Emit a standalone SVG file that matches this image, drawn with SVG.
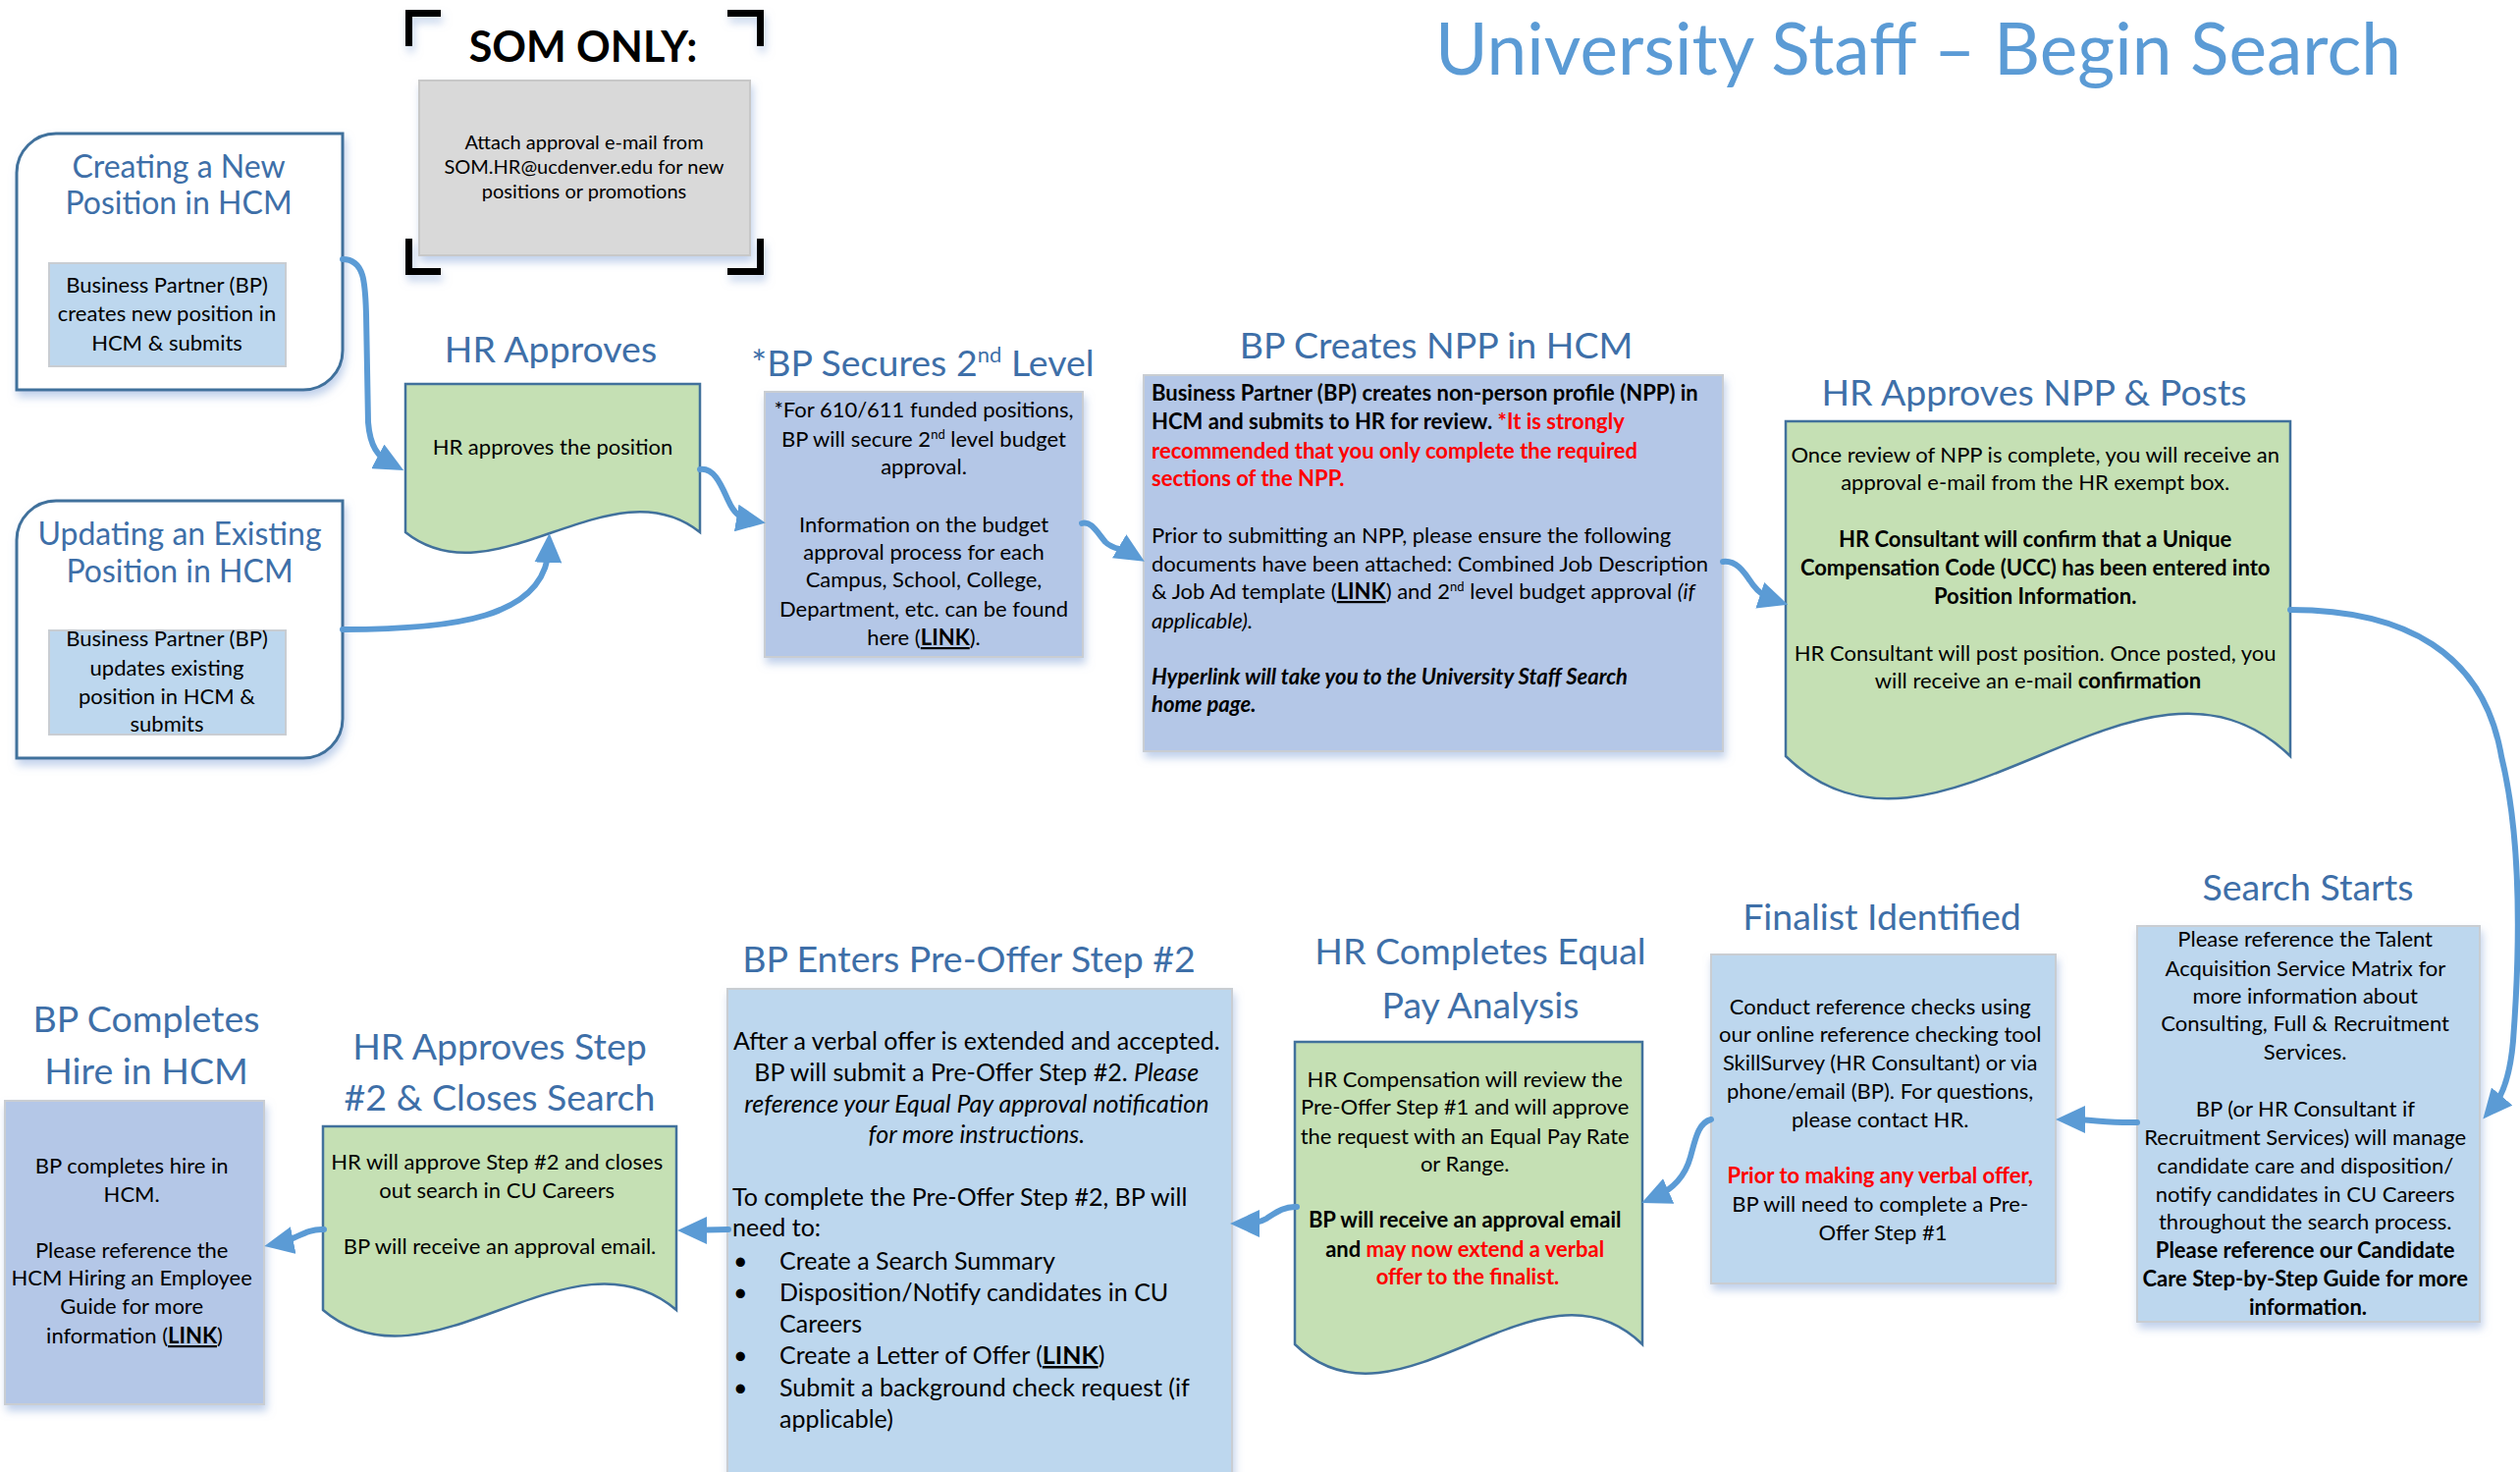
<svg xmlns="http://www.w3.org/2000/svg" width="2567" height="1499" viewBox="0 0 2567 1499">
<defs>
<style>
text{font-family:Lato,"Liberation Sans",sans-serif}
.h{fill:#3E6FA8;text-anchor:middle;font-size:37.5px}
.b{fill:#000;font-size:22px}
.c{text-anchor:middle}
.bd{font-weight:bold}
.it{font-style:italic}
.red{fill:#FF0000}
.u{text-decoration:underline;font-weight:bold}
.blue{fill:#BDD7EE;stroke:#C9CDD2;stroke-width:2}
.blue2{fill:#B4C7E7;stroke:#C9CDD2;stroke-width:2}
.green{fill:#C5E0B4;stroke:#41719C;stroke-width:2.5}
.round{fill:#FFFFFF;stroke:#41719C;stroke-width:3}
.conn{fill:none;stroke:#5B9BD5;stroke-width:6;stroke-linecap:round;marker-end:url(#arrow)}
.brk{fill:none;stroke:#000;stroke-width:7}
</style>
<marker id="arrow" markerUnits="userSpaceOnUse" markerWidth="30" markerHeight="28" viewBox="0 0 30 28" refX="15" refY="14" orient="auto">
<polygon points="0,0 30,14 0,28" fill="#5B9BD5"/>
</marker>
<filter id="sh" x="-10%" y="-10%" width="120%" height="130%">
<feDropShadow dx="2" dy="6" stdDeviation="4" flood-color="#8EAADB" flood-opacity="0.55"/>
</filter>
</defs>
<rect width="2567" height="1499" fill="#FFFFFF"/>

<g id="node-title">
<text x="1954" y="76" text-anchor="middle" font-size="73" fill="#5B9BD5">University Staff – Begin Search</text>
</g>

<g id="node-som">
<g filter="url(#sh)">
<path class="brk" d="M416.5,47 V13.5 H449"/>
<path class="brk" d="M741,13.5 H774.5 V47"/>
<path class="brk" d="M416.5,243 V276.5 H449"/>
<path class="brk" d="M741,276.5 H774.5 V243"/>
<rect x="427" y="82" width="337" height="178" fill="#D9D9D9" stroke="#C8C8C8" stroke-width="2"/>
</g>
<text x="594" y="63" text-anchor="middle" font-size="43" font-weight="bold" fill="#000">SOM ONLY:</text>
<text class="b c" style="font-size:20px"><tspan x="595" y="152">Attach approval e-mail from</tspan><tspan x="595" y="177">SOM.HR@ucdenver.edu for new</tspan><tspan x="595" y="202">positions or promotions</tspan></text>
</g>

<g id="node-creating">
<path class="round" filter="url(#sh)" d="M57,136 H349 V357 A40,40 0 0 1 309,397 H17 V176 A40,40 0 0 1 57,136 Z"/>
<text class="h" style="font-size:32px"><tspan x="182" y="181">Creating a New</tspan><tspan x="182" y="218">Position in HCM</tspan></text>
<rect class="blue" x="50" y="268" width="241" height="105"/>
<text class="b c"><tspan x="170" y="298">Business Partner (BP)</tspan><tspan x="170" y="327">creates new position in</tspan><tspan x="170" y="357">HCM &amp; submits</tspan></text>
</g>

<g id="node-updating">
<path class="round" filter="url(#sh)" d="M57,510 H349 V732 A40,40 0 0 1 309,772 H17 V550 A40,40 0 0 1 57,510 Z"/>
<text class="h" style="font-size:32px"><tspan x="183" y="555">Updating an Existing</tspan><tspan x="183" y="593">Position in HCM</tspan></text>
<rect class="blue" x="50" y="642" width="241" height="106"/>
<text class="b c"><tspan x="170" y="658">Business Partner (BP)</tspan><tspan x="170" y="688">updates existing</tspan><tspan x="170" y="717">position in HCM &amp;</tspan><tspan x="170" y="745">submits</tspan></text>
</g>

<g id="node-hr-approves">
<text class="h" x="561" y="369">HR Approves</text>
<path class="green" d="M413,391 H713 V542 C623,470 503,614 413,542 Z"/>
<text class="b c" x="563" y="463">HR approves the position</text>
</g>

<g id="node-bp-secures">
<text class="h" x="940" y="383">*BP Secures 2<tspan dy="-14" font-size="22">nd</tspan><tspan dy="14"> Level</tspan></text>
<rect class="blue2" filter="url(#sh)" x="779" y="399" width="324" height="270"/>
<text class="b c"><tspan x="941" y="425">*For 610/611 funded positions,</tspan><tspan x="941" y="455">BP will secure 2<tspan dy="-8" font-size="13">nd</tspan><tspan dy="8"> level budget</tspan></tspan><tspan x="941" y="483">approval.</tspan><tspan x="941" y="542">Information on the budget</tspan><tspan x="941" y="570">approval process for each</tspan><tspan x="941" y="598">Campus, School, College,</tspan><tspan x="941" y="628">Department, etc. can be found</tspan><tspan x="941" y="657">here (<tspan class="u">LINK</tspan>).</tspan></text>
</g>

<g id="node-bp-npp">
<text class="h" x="1463" y="365">BP Creates NPP in HCM</text>
<rect class="blue2" filter="url(#sh)" x="1165" y="382" width="590" height="383"/>
<text class="b">
<tspan x="1173" y="408" class="bd">Business Partner (BP) creates non-person profile (NPP) in</tspan>
<tspan x="1173" y="437" class="bd">HCM and submits to HR for review. <tspan class="red">*It is strongly</tspan></tspan>
<tspan x="1173" y="467" class="bd red">recommended that you only complete the required</tspan>
<tspan x="1173" y="495" class="bd red">sections of the NPP.</tspan>
<tspan x="1173" y="553">Prior to submitting an NPP, please ensure the following</tspan>
<tspan x="1173" y="582">documents have been attached: Combined Job Description</tspan>
<tspan x="1173" y="610">&amp; Job Ad template (<tspan class="u">LINK</tspan>) and 2<tspan dy="-8" font-size="13">nd</tspan><tspan dy="8"> level budget approval </tspan><tspan class="it">(if</tspan></tspan>
<tspan x="1173" y="640" class="it">applicable).</tspan>
<tspan x="1173" y="697" class="bd it">Hyperlink will take you to the University Staff Search</tspan>
<tspan x="1173" y="725" class="bd it">home page.</tspan>
</text>
</g>

<g id="node-hr-npp">
<text class="h" x="2072" y="413">HR Approves NPP &amp; Posts</text>
<path class="green" d="M1819,429 H2333 V770 C2179,620 1973,920 1819,770 Z"/>
<text class="b c">
<tspan x="2076" y="471">Once review of NPP is complete, you will receive an</tspan>
<tspan x="2076" y="499">approval e-mail from the HR exempt box.</tspan>
<tspan x="2076" y="557" class="bd">HR Consultant will confirm that a Unique</tspan>
<tspan x="2076" y="586" class="bd">Compensation Code (UCC) has been entered into</tspan>
<tspan x="2076" y="615" class="bd">Position Information.</tspan>
<tspan x="2076" y="673">HR Consultant will post position. Once posted, you</tspan>
<tspan x="2076" y="701">will receive an e-mail <tspan class="bd">confirmation</tspan></tspan>
</text>
</g>

<g id="node-search">
<text class="h" x="2351" y="917">Search Starts</text>
<rect class="blue" filter="url(#sh)" x="2177" y="943" width="349" height="403"/>
<text class="b c">
<tspan x="2351" y="964">Please reference the Talent</tspan>
<tspan x="2351" y="994">Acquisition Service Matrix for</tspan>
<tspan x="2351" y="1022">more information about</tspan>
<tspan x="2351" y="1050">Consulting, Full &amp; Recruitment</tspan>
<tspan x="2351" y="1079">Services.</tspan>
<tspan x="2351" y="1137">BP (or HR Consultant if</tspan>
<tspan x="2351" y="1166">Recruitment Services) will manage</tspan>
<tspan x="2351" y="1195">candidate care and disposition/</tspan>
<tspan x="2351" y="1224">notify candidates in CU Careers</tspan>
<tspan x="2351" y="1252">throughout the search process.</tspan>
<tspan x="2351" y="1281" class="bd">Please reference our Candidate</tspan>
<tspan x="2351" y="1310" class="bd">Care Step-by-Step Guide for more</tspan>
<tspan x="2351" y="1339" class="bd">information.</tspan>
</text>
</g>

<g id="node-finalist">
<text class="h" x="1917" y="947">Finalist Identified</text>
<rect class="blue" filter="url(#sh)" x="1743" y="972" width="351" height="335"/>
<text class="b c">
<tspan x="1918" y="1033">Conduct reference checks using</tspan>
<tspan x="1918" y="1061">our online reference checking tool</tspan>
<tspan x="1918" y="1090">SkillSurvey (HR Consultant) or via</tspan>
<tspan x="1918" y="1119">phone/email (BP). For questions,</tspan>
<tspan x="1918" y="1148">please contact HR.</tspan>
<tspan x="1918" y="1205" class="bd red">Prior to making any verbal offer,</tspan>
<tspan x="1918" y="1234">BP will need to complete a Pre-</tspan>
<tspan x="1918" y="1263">Offer Step #1</tspan>
</text>
</g>

<g id="node-equal-pay">
<text class="h"><tspan x="1508" y="982">HR Completes Equal</tspan><tspan x="1508" y="1037">Pay Analysis</tspan></text>
<path class="green" d="M1319,1061 H1673 V1369 C1567,1266 1425,1472 1319,1369 Z"/>
<text class="b c">
<tspan x="1495" y="1107">HR Compensation will review the</tspan>
<tspan x="1495" y="1135">Pre-Offer Step #1 and will approve</tspan>
<tspan x="1495" y="1165">the request with an Equal Pay Rate</tspan>
<tspan x="1495" y="1193">or Range.</tspan>
<tspan x="1495" y="1250" class="bd">BP will receive an approval email</tspan>
<tspan x="1495" y="1280" class="bd">and <tspan class="red">may now extend a verbal</tspan></tspan>
<tspan x="1495" y="1308" class="bd red">offer to the finalist.</tspan>
</text>
</g>

<g id="node-pre-offer">
<text class="h" x="987" y="990">BP Enters Pre-Offer Step #2</text>
<rect class="blue" filter="url(#sh)" x="741" y="1007" width="514" height="510"/>
<text class="b" style="font-size:25px">
<tspan x="998" y="1069" text-anchor="middle">After a verbal offer is extended and accepted.</tspan>
<tspan x="998" y="1101" text-anchor="middle">BP will submit a Pre-Offer Step #2. <tspan class="it">Please</tspan></tspan>
<tspan x="998" y="1133" text-anchor="middle" class="it">reference your Equal Pay approval notification</tspan>
<tspan x="998" y="1164" text-anchor="middle" class="it">for more instructions.</tspan>
<tspan x="746" y="1228">To complete the Pre-Offer Step #2, BP will</tspan>
<tspan x="746" y="1259">need to:</tspan>
<tspan x="747" y="1293">•</tspan><tspan x="794" y="1293">Create a Search Summary</tspan>
<tspan x="747" y="1325">•</tspan><tspan x="794" y="1325">Disposition/Notify candidates in CU</tspan>
<tspan x="794" y="1357">Careers</tspan>
<tspan x="747" y="1389">•</tspan><tspan x="794" y="1389">Create a Letter of Offer (<tspan class="u">LINK</tspan>)</tspan>
<tspan x="747" y="1422">•</tspan><tspan x="794" y="1422">Submit a background check request (if</tspan>
<tspan x="794" y="1454">applicable)</tspan>
</text>
</g>

<g id="node-hr-step2">
<text class="h"><tspan x="509" y="1079">HR Approves Step</tspan><tspan x="509" y="1131">#2 &amp; Closes Search</tspan></text>
<path class="green" d="M329,1147 H689 V1334 C581,1242 437,1426 329,1334 Z"/>
<text class="b c">
<tspan x="509" y="1191">HR will approve Step #2 and closes</tspan>
<tspan x="509" y="1220">out search in CU Careers</tspan>
<tspan x="509" y="1277">BP will receive an approval email.</tspan>
</text>
</g>

<g id="node-bp-complete">
<text class="h"><tspan x="149" y="1051">BP Completes</tspan><tspan x="149" y="1104">Hire in HCM</tspan></text>
<rect class="blue2" filter="url(#sh)" x="5" y="1121" width="264" height="309"/>
<text class="b c">
<tspan x="137" y="1195">BP completes hire in</tspan>
<tspan x="137" y="1224">HCM.</tspan>
<tspan x="137" y="1281">Please reference the</tspan>
<tspan x="137" y="1309">HCM Hiring an Employee</tspan>
<tspan x="137" y="1338">Guide for more</tspan>
<tspan x="137" y="1368">information (<tspan class="u">LINK</tspan>)</tspan>
</text>
</g>

<g id="connectors">
<path class="conn" d="M349,264 C372,264 372,290 373,320 L375,430 C377,455 385,465 398,472"/>
<path class="conn" d="M349,641 C460,641 556,630 559,558"/>
<path class="conn" d="M713,478 C728,476 735,495 742,510 C747,521 753,528 765,530"/>
<path class="conn" d="M1102,533 C1112,530 1118,543 1126,552 C1134,560 1143,558 1153,564"/>
<path class="conn" d="M1755,572 C1770,570 1778,585 1786,596 C1792,604 1798,608 1807,611"/>
<path class="conn" d="M2333,621 C2450,621 2530,665 2548,770 C2570,860 2566,980 2560,1060 C2557,1095 2550,1115 2539,1128"/>
<path class="conn" d="M2177,1143 C2150,1144 2130,1140 2109,1140"/>
<path class="conn" d="M1743,1140 C1730,1143 1727,1160 1722,1178 C1716,1200 1702,1212 1686,1219"/>
<path class="conn" d="M1321,1229 C1308,1228 1298,1236 1290,1241 C1283,1245 1276,1246 1268,1246"/>
<path class="conn" d="M742,1252 C725,1252 715,1253 705,1253"/>
<path class="conn" d="M330,1252 C316,1251 306,1258 296,1262 C292,1264 289,1265 284,1266"/>
</g>
</svg>
